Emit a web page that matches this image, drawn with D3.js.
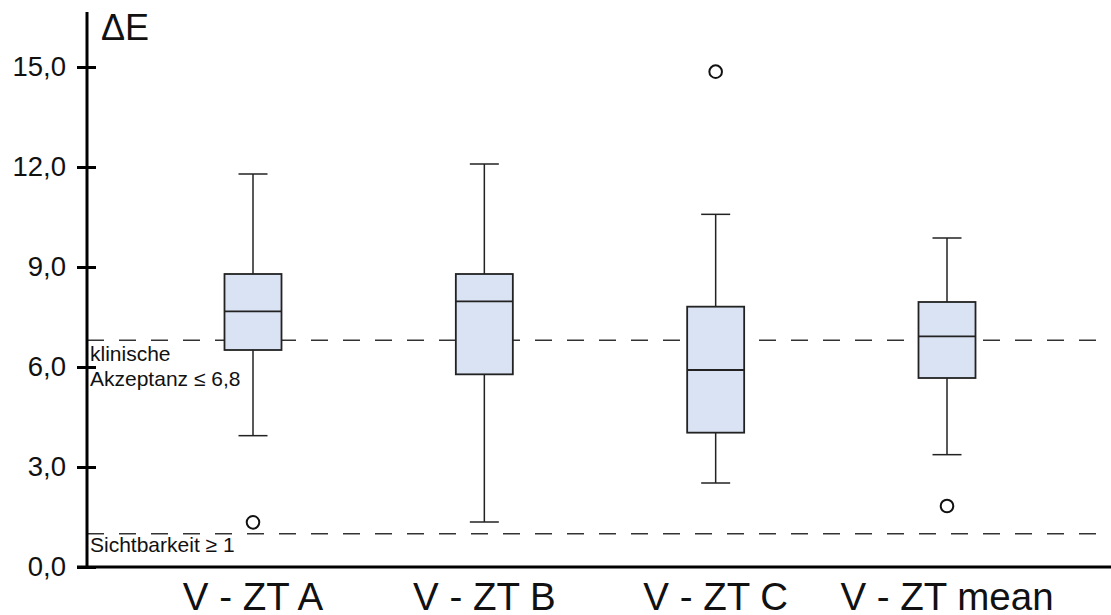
<!DOCTYPE html>
<html lang="de">
	<head>
		<meta charset="utf-8">
		<title>Delta E Boxplot</title>
		<script src="https://cdn.jsdelivr.net/npm/d3@7"></script>
		<style type="text/css">
			body { margin: 0; background: #fff; }
			text { font-family: "Liberation Sans", Arial, sans-serif; }
		</style>
	</head>
	<body>
		<script type="text/javascript">

			var w = 1111;
			var h = 615;

			// data
			var categories = ["V - ZT A", "V - ZT B", "V - ZT C", "V - ZT mean"];
			var whiskerLow  = [3.94, 1.35, 2.52, 3.37];
			var q1          = [6.51, 5.78, 4.03, 5.67];
			var median      = [7.67, 7.97, 5.91, 6.92];
			var q3          = [8.79, 8.79, 7.81, 7.95];
			var whiskerHigh = [11.79, 12.09, 10.58, 9.87];
			var outliers    = [[1.34], [], [14.86], [1.83]];
			var yTicks = [0, 3, 6, 9, 12, 15];
			var refLines = [6.8, 1];

			var svg = d3.select("body")
						.append("svg")
						.attr("width", w)
						.attr("height", h);

			var yScale = d3.scaleLinear()
						   .domain([0, 15])
						   .range([567, 67]);

			var xScale = d3.scalePoint()
						   .domain(categories)
						   .range([253, 947]);

			var boxW = 57;
			var capW = 29;
			var axisX = 87;

			var fmt = function(d) { return d3.format(".1f")(d).replace(".", ","); };

			//Reference dashed lines
			svg.selectAll("line.ref")
			   .data(refLines)
			   .enter()
			   .append("line")
			   .attr("class", "ref")
			   .attr("x1", axisX)
			   .attr("x2", w)
			   .attr("y1", function(d) { return yScale(d); })
			   .attr("y2", function(d) { return yScale(d); })
			   .attr("stroke", "#333")
			   .attr("stroke-width", 1.5)
			   .attr("stroke-dasharray", "17,15");

			var boxes = categories.map(function(c, i) {
				return { cat: c, lo: whiskerLow[i], q1: q1[i], med: median[i], q3: q3[i], hi: whiskerHigh[i], out: outliers[i] };
			});

			var g = svg.selectAll("g.box")
					   .data(boxes)
					   .enter()
					   .append("g")
					   .attr("class", "box")
					   .attr("transform", function(d) { return "translate(" + xScale(d.cat) + ",0)"; });

			//whisker stems
			g.append("line")
			 .attr("x1", 0).attr("x2", 0)
			 .attr("y1", function(d) { return yScale(d.hi); })
			 .attr("y2", function(d) { return yScale(d.lo); })
			 .attr("stroke", "#222").attr("stroke-width", 1.5);

			//caps
			g.selectAll("line.cap")
			 .data(function(d) { return [d.hi, d.lo]; })
			 .enter()
			 .append("line")
			 .attr("class", "cap")
			 .attr("x1", -capW / 2).attr("x2", capW / 2)
			 .attr("y1", function(v) { return yScale(v); })
			 .attr("y2", function(v) { return yScale(v); })
			 .attr("stroke", "#222").attr("stroke-width", 1.5);

			//box
			g.append("rect")
			 .attr("x", -boxW / 2)
			 .attr("width", boxW)
			 .attr("y", function(d) { return yScale(d.q3); })
			 .attr("height", function(d) { return yScale(d.q1) - yScale(d.q3); })
			 .attr("fill", "#dae3f3")
			 .attr("stroke", "#222")
			 .attr("stroke-width", 1.8);

			//median
			g.append("line")
			 .attr("x1", -boxW / 2).attr("x2", boxW / 2)
			 .attr("y1", function(d) { return yScale(d.med); })
			 .attr("y2", function(d) { return yScale(d.med); })
			 .attr("stroke", "#222").attr("stroke-width", 1.8);

			//outliers
			g.selectAll("circle")
			 .data(function(d) { return d.out; })
			 .enter()
			 .append("circle")
			 .attr("cx", 0)
			 .attr("cy", function(v) { return yScale(v); })
			 .attr("r", 6.3)
			 .attr("fill", "#fff")
			 .attr("stroke", "#111")
			 .attr("stroke-width", 2);

			//Y axis
			var yAxis = d3.axisLeft(yScale)
						  .tickValues(yTicks)
						  .tickFormat(fmt)
						  .tickSize(0)
						  .tickPadding(21);

			var ya = svg.append("g")
						.attr("transform", "translate(" + axisX + ",0)")
						.call(yAxis);
			ya.select(".domain").remove();
			ya.selectAll(".tick line").remove();
			ya.selectAll(".tick")
			  .append("line")
			  .attr("x1", -10).attr("x2", 9)
			  .attr("stroke", "#000").attr("stroke-width", 3);
			ya.selectAll(".tick text")
			  .attr("font-size", "27.5px")
			  .attr("fill", "#111");

			svg.append("line")
			   .attr("x1", axisX).attr("x2", axisX)
			   .attr("y1", 12).attr("y2", yScale(0) + 1)
			   .attr("stroke", "#000").attr("stroke-width", 3);

			//X axis
			svg.append("line")
			   .attr("x1", 77).attr("x2", w)
			   .attr("y1", yScale(0)).attr("y2", yScale(0))
			   .attr("stroke", "#000").attr("stroke-width", 3);

			svg.selectAll("text.cat")
			   .data(categories)
			   .enter()
			   .append("text")
			   .attr("class", "cat")
			   .attr("x", function(d) { return xScale(d); })
			   .attr("y", 610)
			   .attr("text-anchor", "middle")
			   .attr("font-size", "38.5px")
			   .attr("fill", "#111")
			   .text(function(d) { return d; });

			//axis title
			svg.append("text")
			   .attr("x", 101)
			   .attr("y", 40)
			   .attr("font-size", "36px")
			   .attr("fill", "#111")
			   .text("\u0394E");

			//annotations
			svg.append("text").attr("x", 90).attr("y", 361)
			   .attr("font-size", "21px").attr("fill", "#111").text("klinische");
			svg.append("text").attr("x", 90).attr("y", 386)
			   .attr("font-size", "21px").attr("fill", "#111").text("Akzeptanz \u2264 6,8");
			svg.append("text").attr("x", 90).attr("y", 552)
			   .attr("font-size", "21px").attr("fill", "#111").text("Sichtbarkeit \u2265 1");

		</script>
	</body>
</html>
